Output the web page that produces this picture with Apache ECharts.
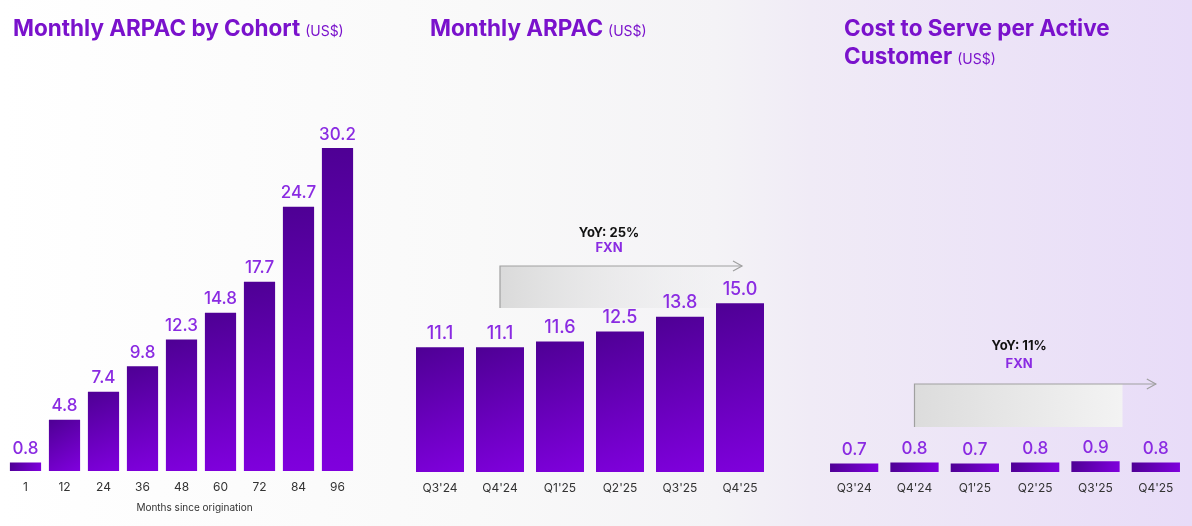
<!DOCTYPE html>
<html>
<head>
<meta charset="utf-8">
<script src="https://cdn.jsdelivr.net/npm/echarts@6/dist/echarts.min.js"></script>
<style>
html,body{margin:0;padding:0;width:1192px;height:526px;overflow:hidden;}
#c{width:1192px;height:526px;}
</style>
</head>
<body>
<div id="c"></div>
<script>
// ---- data ----
var cohortMonths = ["1","12","24","36","48","60","72","84","96"];
var cohortArpac = [0.8, 4.8, 7.4, 9.8, 12.3, 14.8, 17.7, 24.7, 30.2];
var quarters = ["Q3'24","Q4'24","Q1'25","Q2'25","Q3'25","Q4'25"];
var monthlyArpac = [11.1, 11.1, 11.6, 12.5, 13.8, 15.0];
var costToServe = [0.7, 0.8, 0.7, 0.8, 0.9, 0.8];
var yoyArpac = "YoY: 25%";
var yoyCost = "YoY: 11%";

var FONT = "Inter";
var TITLE_COLOR = "#7a12cc";
var LABEL_COLOR = "#8a2be2";

var barColor = new echarts.graphic.LinearGradient(0, 0, 1, 1, [
  {offset: 0, color: "#4e0094"},
  {offset: 1, color: "#8000de"}
]);

function catAxis(idx, data, extra) {
  var a = {
    type: "category", gridIndex: idx, data: data,
    axisLine: {show: false}, axisTick: {show: false},
    axisLabel: {color: "#333", fontSize: 12, margin: 10, fontFamily: FONT}
  };
  for (var k in extra) a[k] = extra[k];
  return a;
}
function valAxis(idx, max) {
  return {type: "value", gridIndex: idx, min: 0, max: max, show: false, splitLine: {show: false}};
}
function barSeries(idx, data, fs) {
  return {
    type: "bar", xAxisIndex: idx, yAxisIndex: idx, data: data,
    barCategoryGap: "20%", silent: true,
    itemStyle: {color: barColor},
    label: {
      show: true, position: "top", distance: 5, color: LABEL_COLOR,
      fontSize: fs, fontFamily: FONT, fontWeight: 500,
      formatter: function (p) { return p.value.toFixed(1); }
    }
  };
}
function titleRich() {
  return {
    m: {fontSize: 22.5, fontWeight: 700, color: TITLE_COLOR, fontFamily: FONT, lineHeight: 28, verticalAlign: "bottom"},
    u: {fontSize: 14, fontWeight: 400, color: TITLE_COLOR, fontFamily: FONT, lineHeight: 28, verticalAlign: "bottom", padding: [0, 0, 2, 0]}
  };
}

var chart = echarts.init(document.getElementById("c"));
var option = {
  animation: false,
  backgroundColor: new echarts.graphic.LinearGradient(0, 0, 1, 0, [
    {offset: 0, color: "#ffffff"},
    {offset: 0.4, color: "#f9f9f9"},
    {offset: 0.6, color: "#f4f3f6"},
    {offset: 0.68, color: "#f0ebf6"},
    {offset: 1, color: "#e8dcf8"}
  ]),
  title: [
    {left: 8, top: 8, text: "{m|Monthly ARPAC by Cohort} {u|(US$)}", textStyle: {rich: titleRich()}},
    {left: 425, top: 8, text: "{m|Monthly ARPAC} {u|(US$)}", textStyle: {rich: titleRich()}},
    {left: 839, top: 8, text: "{m|Cost to Serve per Active}\n{m|Customer} {u|(US$)}", textStyle: {rich: titleRich()}}
  ],
  grid: [
    {left: 6, width: 351, top: 86, height: 385},
    {left: 410, width: 360, top: 247, height: 225},
    {left: 824, width: 362, top: 352, height: 120}
  ],
  xAxis: [
    catAxis(0, cohortMonths, {
      name: "Months since origination", nameLocation: "middle", nameGap: 32,
      nameTextStyle: {color: "#333", fontSize: 10, fontFamily: FONT, padding: [0, 0, 0, 26]}
    }),
    catAxis(1, quarters, {}),
    catAxis(2, quarters, {})
  ],
  yAxis: [valAxis(0, 36), valAxis(1, 20), valAxis(2, 10)],
  series: [
    barSeries(0, cohortArpac, 17),
    barSeries(1, monthlyArpac, 18),
    barSeries(2, costToServe, 17)
  ]
};
chart.setOption(option);

// ---- YoY annotation arrows, anchored on category positions ----
function px(seriesIndex, cat) {
  return chart.convertToPixel({seriesIndex: seriesIndex}, [cat, 0])[0];
}
function arrow(x0, x1, yTop, yBottom, fillEnd, fillStops, text, textShift, textY, fxnY) {
  var els = [];
  els.push({
    type: "rect", silent: true,
    shape: {x: x0, y: yTop, width: fillEnd - x0, height: yBottom - yTop},
    style: {fill: new echarts.graphic.LinearGradient(0, 0, 1, 0, fillStops)}
  });
  els.push({
    type: "polyline", silent: true,
    shape: {points: [[x0, yBottom], [x0, yTop], [x1, yTop]]},
    style: {stroke: "#a0a0a0", lineWidth: 1.2, fill: null}
  });
  els.push({
    type: "polyline", silent: true,
    shape: {points: [[x1 - 9, yTop - 5], [x1, yTop], [x1 - 9, yTop + 5]]},
    style: {stroke: "#a0a0a0", lineWidth: 1.2, fill: null}
  });
  var cx = (x0 + x1) / 2 + textShift;
  els.push({
    type: "text", silent: true, x: cx, y: textY,
    style: {text: text, fill: "#111", font: "bold 13px Inter", align: "center", verticalAlign: "middle"}
  });
  els.push({
    type: "text", silent: true, x: cx, y: fxnY,
    style: {text: "FXN", fill: LABEL_COLOR, font: "bold 13px Inter", align: "center", verticalAlign: "middle"}
  });
  return els;
}
var a2x0 = px(1, quarters[1]);
var a2x1 = px(1, quarters[5]) + 2;
var a3x0 = px(2, quarters[1]);
var a3x1 = px(2, quarters[5]);
var g = [].concat(
  arrow(a2x0, a2x1, 266, 308, a2x1 - 8,
    [{offset: 0, color: "rgba(218,218,218,1)"}, {offset: 1, color: "rgba(240,240,242,0.3)"}],
    yoyArpac, -12, 233, 248),
  arrow(a3x0, a3x1, 384, 427, px(2, quarters[4]) + 27,
    [{offset: 0, color: "#dcdcdc"}, {offset: 1, color: "#f3f3f3"}],
    yoyCost, -16, 346, 364)
);
chart.setOption({graphic: {elements: g}});
</script>
</body>
</html>
